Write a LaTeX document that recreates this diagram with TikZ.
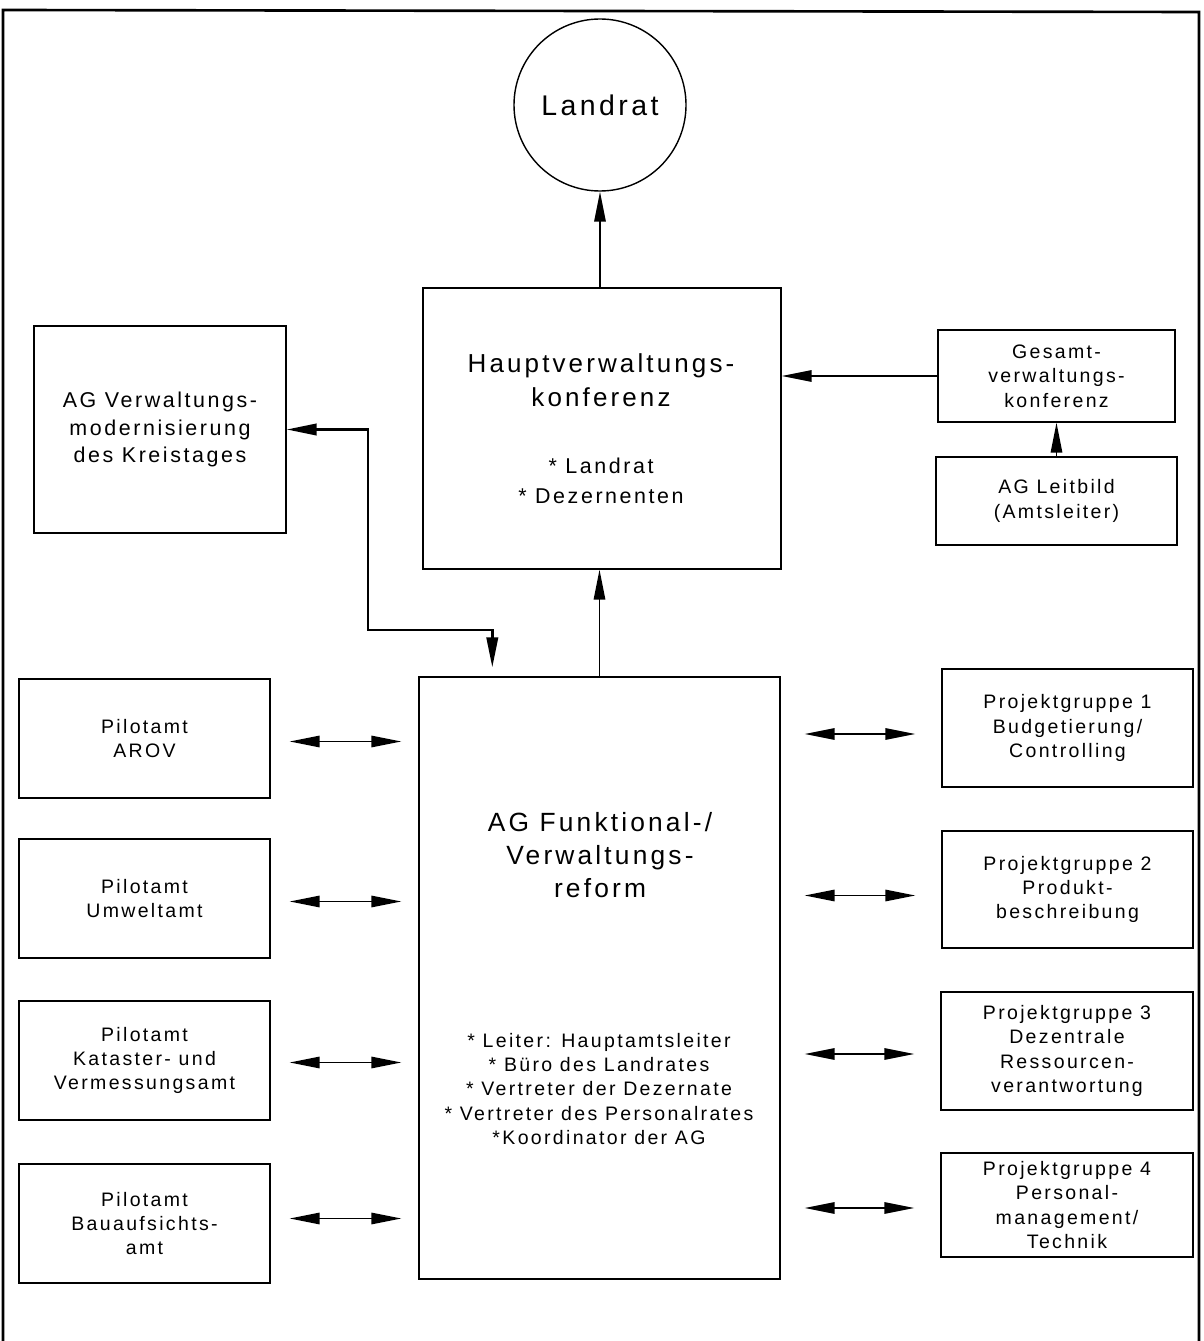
\documentclass[tikz,border=0pt]{standalone}
\usepackage{fontspec}
\setmainfont{Liberation Sans}[LetterSpace=12]
\usetikzlibrary{arrows.meta}
\def\pxu{0.02cm}
\begin{document}
\begin{tikzpicture}[x=0.02cm,y=-0.02cm,
  box/.style={draw,line width=0.8pt,rectangle,inner sep=0pt,align=center,
    font=\fontsize{11.1}{13.9}\selectfont},
  label/.style={align=center,inner sep=0pt},
  tip/.style={-{Triangle[length=17pt,width=6.5pt]}},
  dtip/.style={{Triangle[length=17pt,width=6.5pt]}-{Triangle[length=17pt,width=6.5pt]}},
  link/.style={line width=0.9pt},
  elbow/.style={line width=1.4pt}]
\useasboundingbox (0,0) rectangle (1203,1341);
\fill[white] (0,0) rectangle (1203,1341);

% outer frame
\draw[line width=1.5pt] (3,1345) -- (3,10) -- (1199,12) -- (1199,1345);

% top of the hierarchy
\node[draw,circle,line width=0.8pt,minimum size=172*\pxu,inner sep=0pt,
  font=\fontsize{16.2}{19}\selectfont] (landrat) at (600,105) {Landrat};

% Hauptverwaltungskonferenz
\node[box,minimum width=358*\pxu,minimum height=281*\pxu] (hvk) at (602,428.5) {};
\node[label,font=\fontsize{14.8}{19.3}\selectfont] (hvkt) at (601,380)
  {Hauptverwaltungs-\\konferenz};
\node[label,font=\fontsize{12.2}{17}\selectfont] (hvkb) at (601,481)
  {* Landrat\\* Dezernenten};

% AG Verwaltungsmodernisierung
\node[box,minimum width=252*\pxu,minimum height=207*\pxu,
  font=\fontsize{12.2}{15.4}\selectfont] (vm) at (160,429.5)
  {AG Verwaltungs-\\modernisierung\\des Kreistages};

% Gesamtverwaltungskonferenz and AG Leitbild
\node[box,minimum width=237*\pxu,minimum height=92*\pxu] (ges) at (1056.5,376)
  {Gesamt-\\verwaltungs-\\konferenz};
\node[box,minimum width=241*\pxu,minimum height=88*\pxu] (leit) at (1056.5,501)
  {AG Leitbild\\(Amtsleiter)};

% AG Funktional-/Verwaltungsreform
\node[box,minimum width=361*\pxu,minimum height=602*\pxu] (fv) at (599.5,978) {};
\node[label,font=\fontsize{15}{18.8}\selectfont] (fvt) at (600,855)
  {AG Funktional-/\\Verwaltungs-\\reform};
\node[label,font=\fontsize{11.1}{13.8}\selectfont] (fvb) at (599,1089)
  {* Leiter: Hauptamtsleiter\\* Büro des Landrates\\* Vertreter der Dezernate\\
   * Vertreter des Personalrates\\*Koordinator der AG};

% pilot offices
\node[box,minimum width=251*\pxu,minimum height=119*\pxu] (aro) at (144.5,738.5)
  {Pilotamt\\AROV};
\node[box,minimum width=251*\pxu,minimum height=119*\pxu] (umw) at (144.5,898.5)
  {Pilotamt\\Umweltamt};
\node[box,minimum width=251*\pxu,minimum height=119*\pxu] (kat) at (144.5,1060.5)
  {Pilotamt\\Kataster- und\\Vermessungsamt};
\node[box,minimum width=251*\pxu,minimum height=119*\pxu] (bau) at (144.5,1223.5)
  {Pilotamt\\Bauaufsichts-\\amt};

% project groups
\node[box,minimum width=251*\pxu,minimum height=118*\pxu] (pg1) at (1067.5,728)
  {Projektgruppe 1\\Budgetierung/\\Controlling};
\node[box,minimum width=251*\pxu,minimum height=117*\pxu] (pg2) at (1067.5,889.5)
  {Projektgruppe 2\\Produkt-\\beschreibung};
\node[box,minimum width=252*\pxu,minimum height=118*\pxu] (pg3) at (1067,1051)
  {Projektgruppe 3\\Dezentrale\\Ressourcen-\\verantwortung};
\node[box,minimum width=252*\pxu,minimum height=104*\pxu] (pg4) at (1067,1205)
  {Projektgruppe 4\\Personal-\\management/\\Technik};

% vertical reporting lines
\draw[link,tip] (landrat.south |- hvk.north) -- (landrat.south);
\draw[link,tip] (fv.north) -- (fv.north |- hvk.south);
\draw[link,tip] (ges.west) -- (ges.west -| hvk.east);
\draw[link,tip] (leit.north) -- (ges.south);

% link between the Kreistag group and the reform group
\coordinate (bend) at (368,630);
\coordinate (fvin) at ([xshift=74*\pxu]fv.north west);
\draw[elbow,dtip,shorten >=9*\pxu] (vm.east) -| (bend) -| (fvin);

% exchanges with pilot offices and project groups
\foreach \b/\d in {aro/3,umw/3,kat/2,bau/-5}{
  \draw[link,dtip,shorten <=19*\pxu,shorten >=17*\pxu]
    ([yshift=-\d*\pxu]\b.east) -- ([yshift=-\d*\pxu]\b.east -| fv.west);
}
\foreach \b/\d in {pg1/6,pg2/6,pg3/3,pg4/3}{
  \draw[link,dtip,shorten <=24*\pxu,shorten >=26*\pxu]
    ([yshift=-\d*\pxu]\b.west -| fv.east) -- ([yshift=-\d*\pxu]\b.west);
}
\end{tikzpicture}
\end{document}
